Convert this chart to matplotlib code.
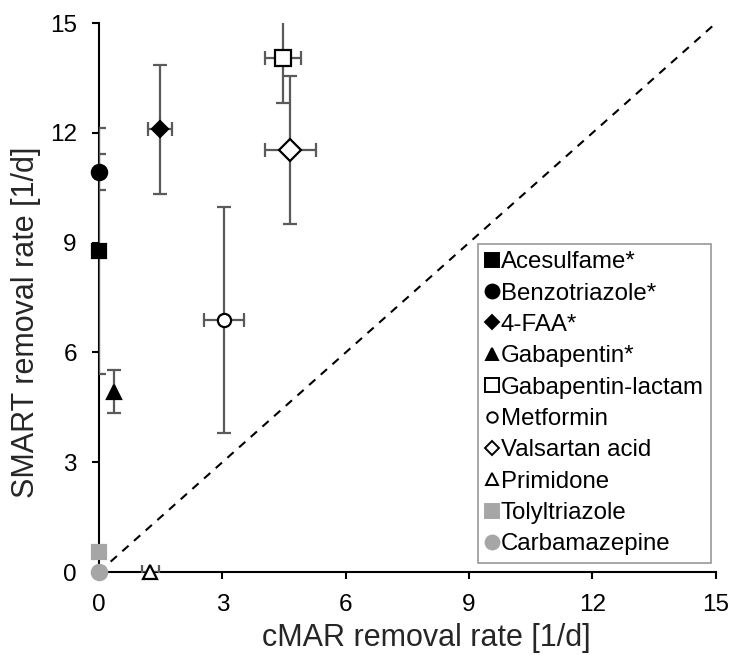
import matplotlib
matplotlib.use("Agg")
import matplotlib.pyplot as plt
from matplotlib.lines import Line2D

plt.rcParams['font.family'] = ['Liberation Sans', 'DejaVu Sans']

names = ["Acesulfame*", "Benzotriazole*", "4-FAA*", "Gabapentin*", "Gabapentin-lactam",
         "Metformin", "Valsartan acid", "Primidone", "Tolyltriazole", "Carbamazepine"]
cmar = [0.0, 0.0, 1.48, 0.36, 4.47, 3.04, 4.65, 1.25, 0.0, 0.0]
smart = [8.77, 10.93, 12.1, 4.93, 14.04, 6.89, 11.53, 0.0, 0.55, 0.0]
cmar_err = [0.0, 0.0, 0.30, 0.0, 0.44, 0.49, 0.62, 0.2, 0.0, 0.0]
smart_err = [3.36, 0.48, 1.76, 0.59, 1.23, 3.09, 2.03, 0.0, 0.0, 0.0]

markers = ["s", "o", "D", "^", "s", "o", "D", "^", "s", "o"]
faces = ["black", "black", "black", "black", "white", "white", "white", "white", "#a6a6a6", "#a6a6a6"]
edges = ["black", "black", "black", "black", "black", "black", "black", "black", "#a6a6a6", "#a6a6a6"]
msizes = [10, 11, 8, 10, 11, 9.5, 11, 9.5, 10, 11]
leg_sizes = [10, 10, 7.5, 9, 10, 7.5, 7.5, 8.5, 10, 10]

ticks = [0, 3, 6, 9, 12, 15]

fig = plt.figure(figsize=(7.3, 6.55), dpi=100)
ax = fig.add_axes([0.1356, 0.1267, 0.845, 0.838])

ax.plot([0, 15], [0, 15], ls=(0, (4, 3.5)), color="black", lw=1.5, zorder=2)

for i in range(len(names)):
    xe = cmar_err[i] if cmar_err[i] > 0 else None
    ye = smart_err[i] if smart_err[i] > 0 else None
    if xe is not None or ye is not None:
        ax.errorbar(cmar[i], smart[i], xerr=xe, yerr=ye, fmt="none",
                    ecolor="#5a5a5a", elinewidth=1.6, capsize=5, capthick=1.6,
                    zorder=3, clip_on=True)
    ax.plot(cmar[i], smart[i], marker=markers[i], ms=msizes[i], mfc=faces[i],
            mec=edges[i], mew=1.6, ls="none", zorder=5, clip_on=False)

ax.set_xlim(0, 15)
ax.set_ylim(0, 15)
ax.set_xticks(ticks)
ax.set_yticks(ticks)
ax.spines["top"].set_visible(False)
ax.spines["right"].set_visible(False)
for s in ["left", "bottom"]:
    ax.spines[s].set_linewidth(1.5)
ax.tick_params(direction="out", length=5, width=1.5, labelsize=17.5, pad=11)
ax.set_xlabel("cMAR removal rate [1/d]", fontsize=22, color="#262626", labelpad=5)
ax.set_ylabel("SMART removal rate [1/d]", fontsize=22, color="#262626", labelpad=6)
ax.xaxis.label.set_x(0.53)
ax.yaxis.label.set_y(0.455)

handles = [Line2D([], [], marker=markers[i], ms=leg_sizes[i], mfc=faces[i], mec=edges[i],
                  mew=1.4, ls="none") for i in range(len(names))]
leg = ax.legend(handles, names, loc="lower right", bbox_to_anchor=(0.992, 0.017),
                fontsize=17.3, frameon=True, fancybox=False, edgecolor="#7f7f7f",
                handlelength=0.55, handletextpad=0.1, labelspacing=0.39,
                borderpad=0.3, borderaxespad=0.0)
leg.get_frame().set_linewidth(1.2)

fig.savefig("out.png", dpi=100)
